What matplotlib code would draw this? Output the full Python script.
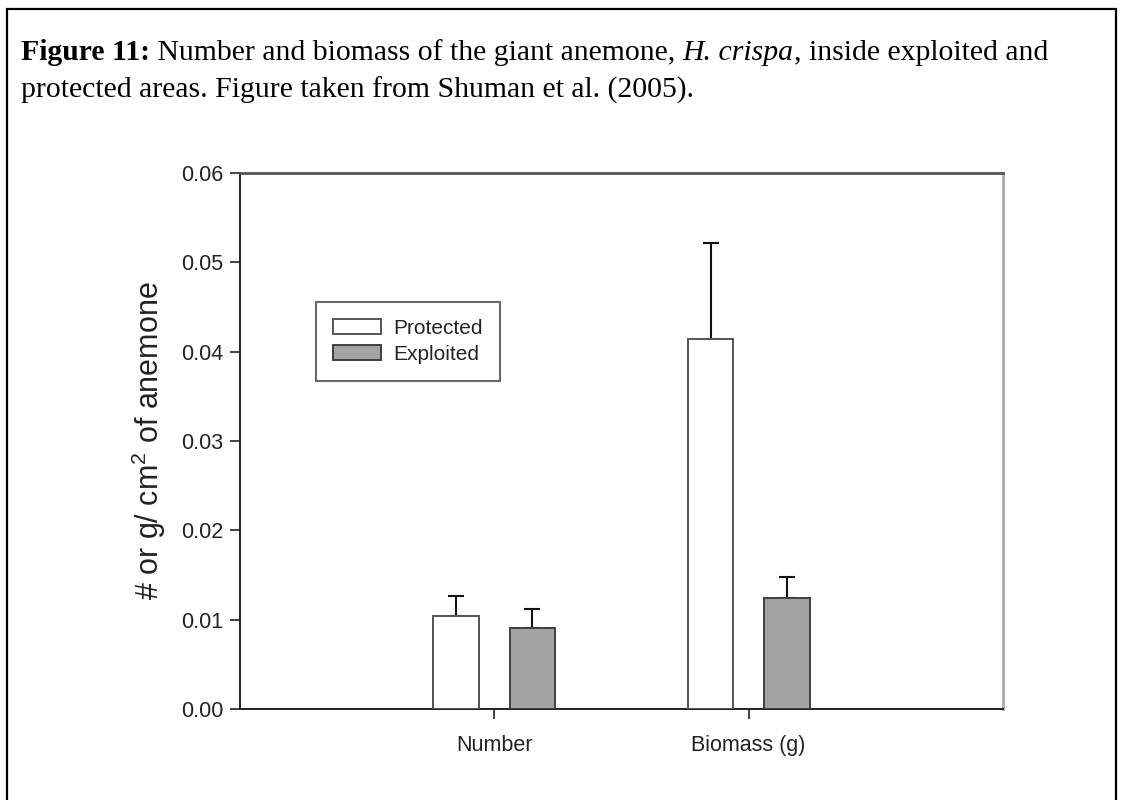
import matplotlib
matplotlib.use("Agg")
import matplotlib.pyplot as plt
from matplotlib.patches import Rectangle
import numpy as np

# Data: anemone density (#/cm2) and biomass (g/cm2)
categories = ["Number", "Biomass (g)"]
protected_mean = [0.0104, 0.0414]
protected_se = [0.0023, 0.0108]
exploited_mean = [0.0091, 0.0124]
exploited_se = [0.0021, 0.0024]
yticks = [0.00, 0.01, 0.02, 0.03, 0.04, 0.05, 0.06]

plt.rcParams["font.family"] = ["Liberation Sans", "DejaVu Sans"]
plt.rcParams["mathtext.fontset"] = "custom"
plt.rcParams["mathtext.rm"] = "Liberation Sans"
plt.rcParams["mathtext.it"] = "Liberation Sans:italic"

W, H = 1122, 800
fig = plt.figure(figsize=(W / 100, H / 100), dpi=100)
fig.patch.set_facecolor("white")

# Outer frame around caption and chart
fig.add_artist(Rectangle((7 / W, -0.05), (1116 - 7) / W, (H - 9) / H + 0.05,
                         transform=fig.transFigure, fill=False,
                         edgecolor="black", linewidth=1.6))

# Caption, built piece by piece so bold / italic runs flow inline
serif = ["Liberation Serif", "DejaVu Serif"]
cap_size = 21.4
renderer = fig.canvas.get_renderer()


def caption_line(pieces, x0, y0):
    x = x0
    for txt, weight, style in pieces:
        t = fig.text(x / W, 1 - y0 / H, txt, family=serif, size=cap_size,
                     weight=weight, style=style, va="baseline", ha="left")
        bb = t.get_window_extent(renderer=renderer)
        x += bb.width


caption_line([("Figure 11:", "bold", "normal"),
              (" Number and biomass of the giant anemone, ", "normal", "normal"),
              ("H. crispa", "normal", "italic"),
              (", inside exploited and", "normal", "normal")], 21, 60)
caption_line([("protected areas. Figure taken from Shuman et al. (2005).",
               "normal", "normal")], 21, 98)

# Chart axes
ax = fig.add_axes([240 / W, 1 - 709 / H, (1003 - 240) / W, (709 - 173) / H])
x = np.arange(1, len(categories) + 1)
off, bw = 0.15, 0.18

ax.bar(x - off, protected_mean, width=bw, color="white",
       edgecolor="#555555", linewidth=1.4, zorder=3, label="Protected")
ax.bar(x + off, exploited_mean, width=bw, color="#a3a3a3",
       edgecolor="#404040", linewidth=1.4, zorder=3, label="Exploited")

zeros = np.zeros(len(categories))
ax.errorbar(x - off, protected_mean, yerr=[zeros, protected_se], fmt="none",
            ecolor="#111111", elinewidth=1.5, capsize=6, capthick=1.5, zorder=2)
ax.errorbar(x + off, exploited_mean, yerr=[zeros, exploited_se], fmt="none",
            ecolor="#111111", elinewidth=1.5, capsize=6, capthick=1.5, zorder=2)

ax.set_xlim(0, 3)
ax.set_ylim(0, 0.06)
ax.set_xticks(x)
ax.set_xticklabels(categories, fontsize=15.5, color="#222222")
ax.set_yticks(yticks)
ax.set_yticklabels([f"{v:.2f}" for v in yticks], fontsize=15.5, color="#222222")
ax.tick_params(axis="both", direction="out", length=7, width=1.2,
               color="#222222", pad=5)
ax.tick_params(axis="x", pad=12)

ax.set_ylabel(r"# or g/ cm$^2$ of anemone", fontsize=22, color="#222222",
              labelpad=9)

for side in ("left", "bottom"):
    ax.spines[side].set_color("#222222")
    ax.spines[side].set_linewidth(1.4)
ax.spines["top"].set_color("#555555")
ax.spines["top"].set_linewidth(2.0)
ax.spines["right"].set_color("#b0b0b0")
ax.spines["right"].set_linewidth(2.2)

leg = ax.legend(loc="upper left", bbox_to_anchor=(316 / W, 1 - 302 / H),
                bbox_transform=fig.transFigure, fontsize=15, frameon=True,
                fancybox=False, handlelength=2.3, handleheight=0.75,
                borderpad=0.8, labelspacing=0.35, handletextpad=0.63,
                borderaxespad=0)
leg.get_frame().set_edgecolor("#444444")
leg.get_frame().set_linewidth(1.5)
for t in leg.get_texts():
    t.set_color("#222222")

fig.savefig("out.png", dpi=100, facecolor="white")
